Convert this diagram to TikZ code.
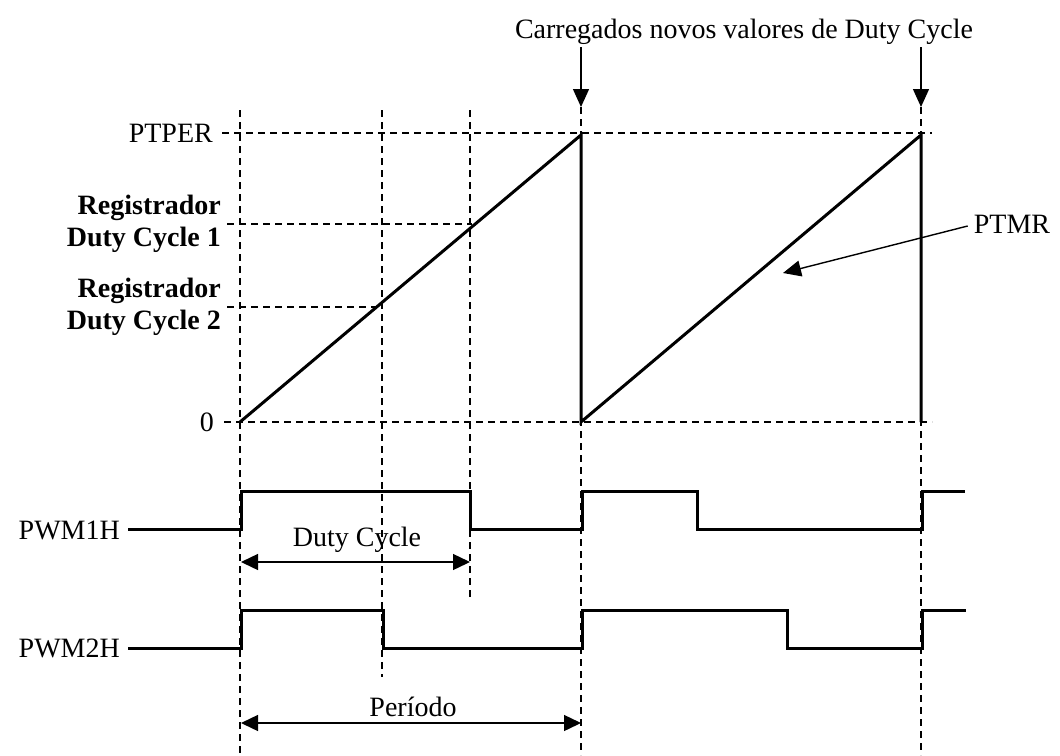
\documentclass[tikz,border=0pt]{standalone}
\usepackage{fontspec}
\setmainfont{Liberation Serif}
\usetikzlibrary{arrows.meta}
\begin{document}
\begin{tikzpicture}[x=1pt,y=-1pt,
  dsh/.style={line width=1.4pt,dash pattern=on 7pt off 5pt},
  sig/.style={line width=3pt,line join=miter},
  dimarrow/.style={line width=1.4pt,{Triangle[length=17pt,width=16pt]}-{Triangle[length=17pt,width=16pt]}},
  pointer/.style={line width=1.4pt,-{Triangle[length=18pt,width=16pt]}},
  lbl/.style={font=\fontsize{28}{32}\selectfont, inner sep=0pt},
  blbl/.style={font=\fontsize{28}{32}\selectfont\bfseries, inner sep=0pt, align=right}]
\useasboundingbox (0,0) rectangle (1060,755);

% vertical dashed guides
\draw[dsh] (240,110) -- (240,755);
\draw[dsh] (382,110) -- (382,677);
\draw[dsh] (470,110) -- (470,597);
\draw[dsh] (581,107) -- (581,755);
\draw[dsh] (921,107) -- (921,755);

% horizontal dashed levels
\draw[dsh] (222,133) -- (932,133);
\draw[dsh] (227,224) -- (472,224);
\draw[dsh] (227,307) -- (382,307);
\draw[dsh] (224,422) -- (932,422);

% level labels
\node[lbl, anchor=east] (ptper) at (213,133) {PTPER};
\node[blbl, anchor=east] (dc1) at (221,224) {Registrador\\Duty Cycle 1};
\node[blbl, anchor=east] (dc2) at (221,307) {Registrador\\Duty Cycle 2};
\node[lbl, anchor=east] (zero) at (214,422) {0};

% PTMR sawtooth
\draw[sig] (240,422) -- (581,135) -- (581,422) -- (921,135) -- (921,422);

% top label and arrows
\node[lbl] (load) at (744,32) {Carregados novos valores de Duty Cycle};
\coordinate (l1s) at (581,47);
\coordinate (l1e) at (581,107);
\coordinate (l2s) at (921,47);
\coordinate (l2e) at (921,107);
\draw[pointer] (l1s) -- (l1e);
\draw[pointer] (l2s) -- (l2e);

% PTMR label
\node[lbl] (ptmr) at (1012,224) {PTMR};
\coordinate (ptmrtip) at (783,273);
\draw[pointer] (ptmr.west) ++(-6,2) -- (ptmrtip);

% PWM1H
\node[lbl, anchor=east] (pwm1) at (120,530) {PWM1H};
\draw[sig] (128,529) -- (241,529) -- (241,491) -- (470,491) -- (470,529) -- (582,529) -- (582,491) -- (697,491) -- (697,529) -- (922,529) -- (922,491) -- (965,491);

% PWM2H
\node[lbl, anchor=east] (pwm2) at (120,648) {PWM2H};
\draw[sig] (128,648) -- (241,648) -- (241,610) -- (383,610) -- (383,648) -- (582,648) -- (582,610) -- (787,610) -- (787,648) -- (922,648) -- (922,610) -- (966,610);

% Duty cycle dimension
\node[lbl] (dclbl) at (357,540) {Duty Cycle};
\coordinate (dca) at (241,562);
\coordinate (dcb) at (470,562);
\draw[dimarrow] (dca) -- (dcb);

% Periodo dimension
\node[lbl] (perlbl) at (413,707) {Período};
\coordinate (pa) at (241,723);
\coordinate (pb) at (581,723);
\draw[dimarrow] (pa) -- (pb);
\end{tikzpicture}
\end{document}
